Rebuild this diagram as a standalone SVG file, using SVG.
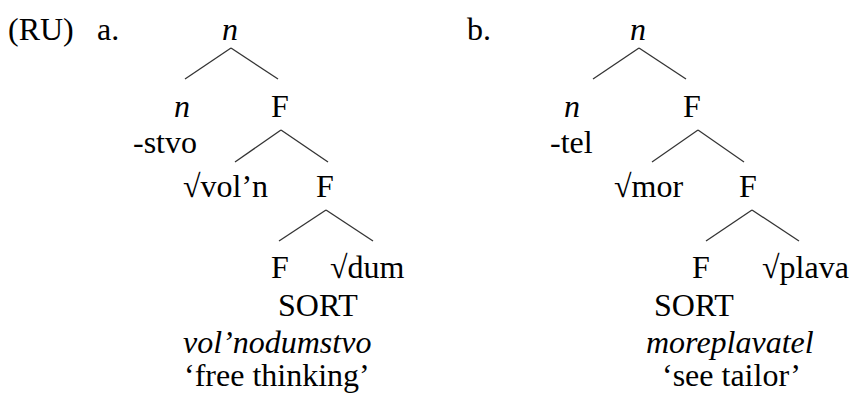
<svg xmlns="http://www.w3.org/2000/svg" width="853" height="394" viewBox="0 0 853 394">
<style>
text{font-family:"Liberation Serif","Times New Roman",serif;font-size:32px;fill:#000}
.i{font-style:italic}
.m{text-anchor:middle}
#edges line{stroke:#333;stroke-width:1.3}
</style>
<rect width="853" height="394" fill="#fff"/>
<g id="labels">
<text x="8" y="40">(RU)</text>
<text x="97" y="40">a.</text>
<text x="467" y="40">b.</text>
</g>
<g id="edges">
<line x1="231" y1="48" x2="185" y2="79"/>
<line x1="231" y1="48" x2="278" y2="79"/>
<line x1="281" y1="130" x2="235" y2="162"/>
<line x1="281" y1="130" x2="328" y2="162"/>
<line x1="326" y1="210" x2="279" y2="241"/>
<line x1="326" y1="210" x2="373" y2="241"/>
<line x1="639" y1="48" x2="593" y2="79"/>
<line x1="639" y1="48" x2="686" y2="79"/>
<line x1="698" y1="130" x2="652" y2="162"/>
<line x1="698" y1="130" x2="744" y2="162"/>
<line x1="752" y1="210" x2="706" y2="241"/>
<line x1="752" y1="210" x2="799" y2="241"/>
</g>
<g id="a-root"><text class="i m" x="230" y="40">n</text></g>
<g id="a-n"><text class="i m" x="182" y="117">n</text><text x="133" y="153">-stvo</text></g>
<g id="a-F1"><text class="m" x="280" y="117">F</text></g>
<g id="a-vol"><text x="183" y="197">√vol’n</text></g>
<g id="a-F2"><text class="m" x="325" y="197">F</text></g>
<g id="a-F3"><text class="m" x="280" y="278">F</text><text x="278" y="316">SORT</text></g>
<g id="a-dum"><text x="330" y="278">√dum</text></g>
<g id="a-gloss"><text class="i" x="183" y="353">vol’nodumstvo</text><text x="184" y="386">‘free thinking’</text></g>
<g id="b-root"><text class="i m" x="638" y="40">n</text></g>
<g id="b-n"><text class="i m" x="572" y="117">n</text><text x="550" y="153">-tel</text></g>
<g id="b-F1"><text class="m" x="692" y="117">F</text></g>
<g id="b-mor"><text x="614" y="197">√mor</text></g>
<g id="b-F2"><text class="m" x="748" y="197">F</text></g>
<g id="b-F3"><text class="m" x="701" y="278">F</text><text x="654" y="316">SORT</text></g>
<g id="b-plava"><text x="762" y="278">√plava</text></g>
<g id="b-gloss"><text class="i" x="646" y="353">moreplavatel</text><text x="662" y="386">‘see tailor’</text></g>
</svg>
